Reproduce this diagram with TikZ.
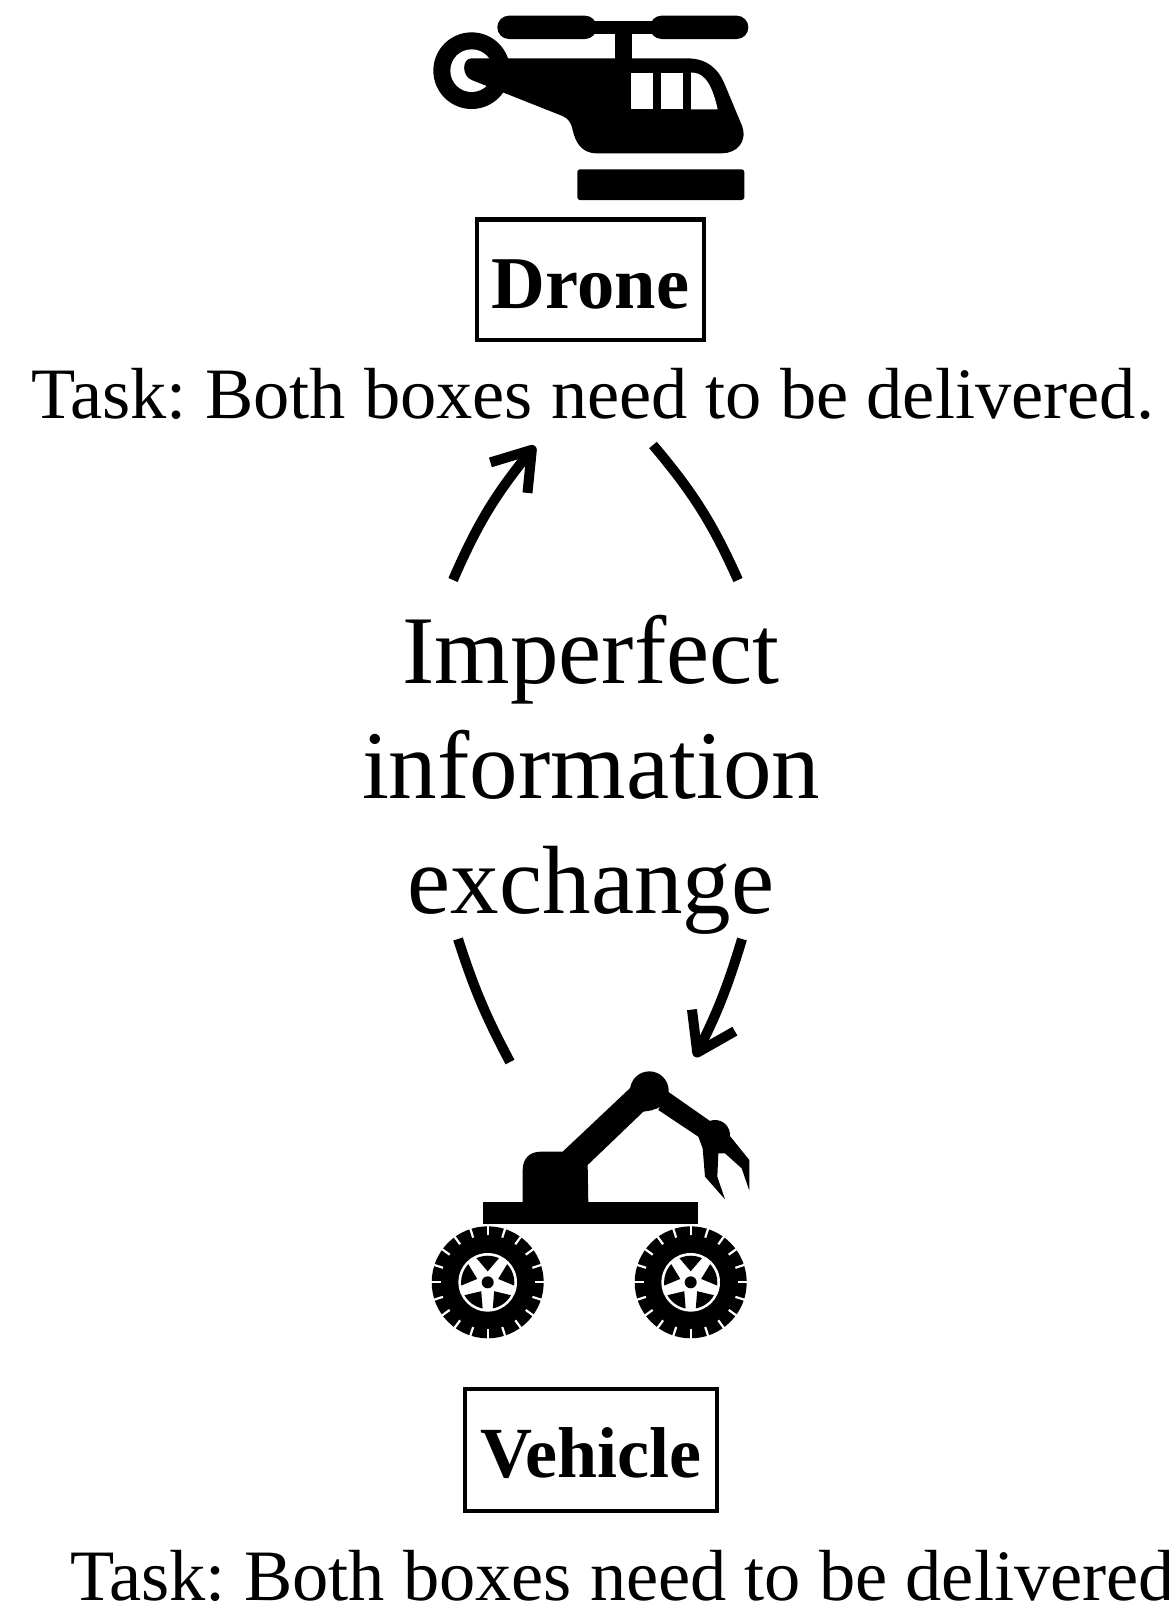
\documentclass[tikz,border=0pt]{standalone}
\usepackage{fontspec}
\setmainfont{Liberation Serif}
\usetikzlibrary{arrows.meta}
\pgfdeclarearrow{
  name=Chevron,
  setup code={%
    \pgfarrowssettipend{0pt}%
    \pgfarrowssetbackend{-36pt}%
    \pgfarrowssetlineend{-7pt}%
    \pgfarrowssetvisualbackend{-7pt}%
    \pgfarrowshullpoint{0pt}{0pt}%
    \pgfarrowshullpoint{-36pt}{24pt}%
    \pgfarrowshullpoint{-36pt}{-24pt}},
  drawing code={%
    \pgfsetlinewidth{10pt}\pgfsetroundjoin\pgfsetbuttcap
    \pgfpathmoveto{\pgfpoint{-41pt}{24pt}}%
    \pgfpathlineto{\pgfpoint{-5pt}{0pt}}%
    \pgfpathlineto{\pgfpoint{-41pt}{-24pt}}%
    \pgfusepathqstroke}
}
\newcommand{\wheelicon}[2]{%
  \begin{scope}[shift={(#1,#2)},y=1pt]
    \fill[black] (0,0) circle[radius=56];
    \foreach \a in {0,18,...,342}
      \draw[white,line width=2.2pt] (\a:47) -- (\a:56.5);
    \fill[white] (0,0) circle[radius=29.3];
    \foreach \a in {18,90,162,234,306}
      \fill[black] (\a-25:26.6) -- (\a-18:26.6) -- (\a-9:26.6) -- (\a:26.6) -- (\a+9:26.6) -- (\a+18:26.6) -- (\a+25:26.6) -- (\a:11) -- cycle;
    \fill[black] (0,0) circle[radius=6];
  \end{scope}}
\tikzset{
  x=1pt,y=-1pt,
  tasktext/.style={font=\fontsize{72.4}{86}\selectfont\frenchspacing,inner sep=0pt,anchor=base west},
  namebox/.style={draw=black,line width=4.2pt,inner sep=0pt,anchor=base,align=center},
  bigtext/.style={font=\fontsize{97}{115}\selectfont,align=center,inner sep=0pt},
  link/.style={line width=10pt,black},
  linkarrow/.style={link,-Chevron},
  zoomed/.style={x=0.33333pt,y=-0.33333pt}
}
\begin{document}
\begin{tikzpicture}
\useasboundingbox (0,0) rectangle (1169,1609);
% Helicopter
\begin{scope}[shift={(420,0)},zoomed]
  \fill[black] (155,212) circle[radius=115];
  \fill[white] (155,212) circle[radius=64];
  \fill[black,rounded corners=11.6pt] (232,47) rectangle (530,117);
  \fill[black,rounded corners=11.6pt] (690,47) rectangle (985,117);
  \fill[black] (500,62) rectangle (720,102);
  \fill[black] (585,100) rectangle (635,180);
  \fill[black] (155,175) -- (800,175)
     .. controls (860,175) and (895,205) .. (915,255)
     -- (965,375)
     .. controls (985,425) and (950,460) .. (905,460)
     -- (530,460)
     .. controls (480,460) and (465,420) .. (458,390)
     .. controls (452,365) and (445,355) .. (425,347)
     -- (155,240)
     .. controls (125,228) and (125,175) .. (155,175) -- cycle;
  \fill[white] (632,218) rectangle (700,328);
  \fill[white] (722,218) rectangle (790,328);
  \fill[white] (813,218) -- (813,328) -- (893,328)
     .. controls (880,270) and (860,220) .. (820,218) -- cycle;
  \fill[black,rounded corners=2.7pt] (472,508) rectangle (973,600);
\end{scope}
% Vehicle
\begin{scope}[shift={(420,1060)},zoomed]
  \fill[black] (189,427) rectangle (835,493);
  \fill[black] (308,430) -- (308,330)
     .. controls (308,295) and (330,275) .. (362,275)
     -- (428,275) -- (640,75) -- (700,150) -- (670,155) -- (503,315) -- (505,430) -- cycle;
  \fill[black] (688,92) circle[radius=58];
  \fill[black] (885,225) circle[radius=45];
  \fill[black] (740,92) -- (880,190) -- (925,222) -- (988,300) -- (988,392)
     -- (965,325) -- (915,280) -- (895,280) -- (892,350) -- (915,418)
     -- (855,350) -- (848,265) -- (835,230) -- (715,150) -- cycle;
\end{scope}
\wheelicon{487.7}{1282.3}
\wheelicon{690.7}{1282.3}
% Labels
\node[namebox,text width=227pt,text height=88.5pt,text depth=32pt,font=\fontsize{74.5}{86}\selectfont\bfseries] (drone) at (590.5,308) {Drone};
\node[tasktext] (taskone) at (31,418) {Task: Both boxes need to be delivered.};
\node[bigtext] (exchange) at (591,775) {Imperfect\\information\\exchange};
\node[namebox,text width=252pt,text height=88pt,text depth=34pt,font=\fontsize{72}{86}\selectfont\bfseries] (vehicle) at (591,1477) {Vehicle};
\node[tasktext] (tasktwo) at (70,1600) {Task: Both boxes need to be delivered};
% Connectors
\coordinate (a1) at (453,580);
\coordinate (a2) at (535,446);
\coordinate (b1) at (738,580);
\coordinate (b2) at (653,445);
\coordinate (c1) at (458,939);
\coordinate (c2) at (510,1062);
\coordinate (d1) at (742,939);
\coordinate (d2) at (695,1057);
\draw[linkarrow] (a1) to[bend left=8] (a2);
\draw[link] (b1) to[bend right=8] (b2);
\draw[link] (c1) to[bend right=5] (c2);
\draw[linkarrow] (d1) to[bend left=5] (d2);
\end{tikzpicture}
\end{document}
